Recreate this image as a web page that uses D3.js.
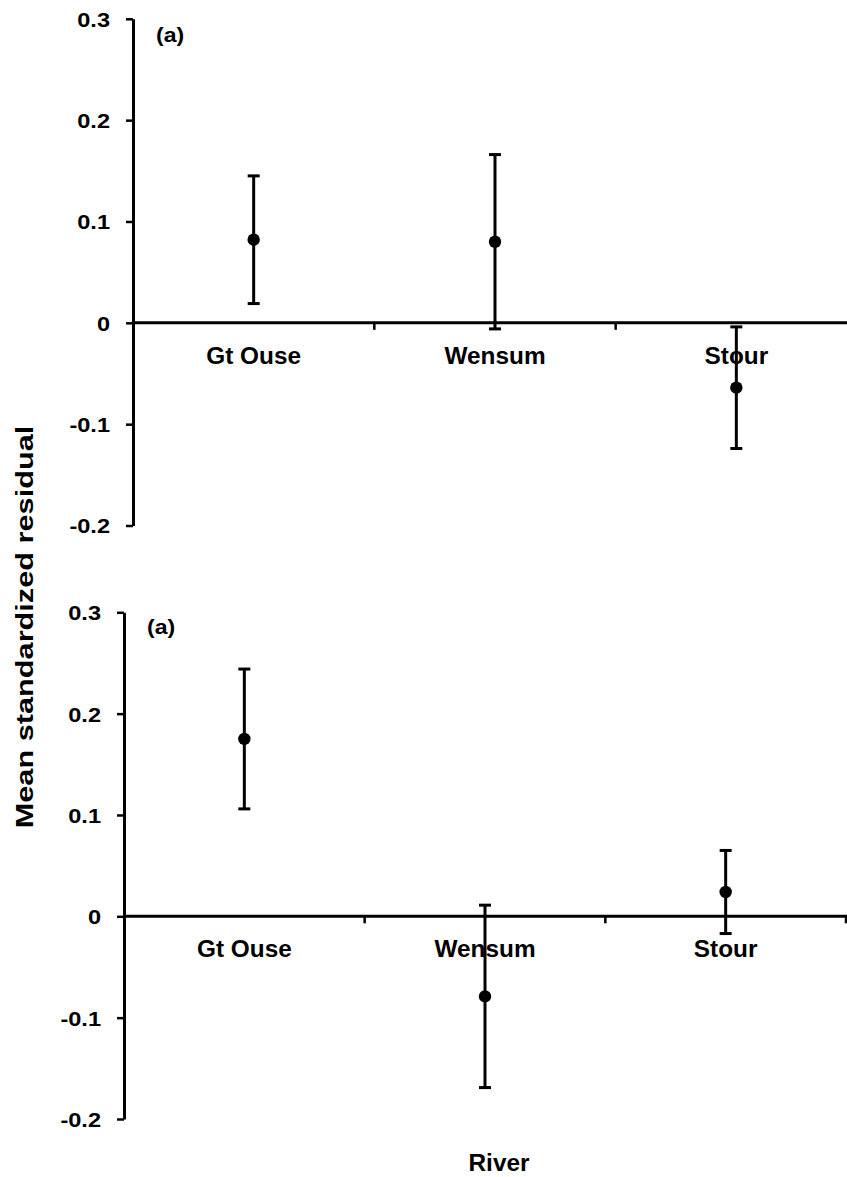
<!DOCTYPE html>
<html>
<head>
<meta charset="utf-8">
<script src="https://cdn.jsdelivr.net/npm/d3@7"></script>
<style>
  html, body { margin: 0; padding: 0; background: #fff; }
  svg { display: block; }
  text { font-family: "Liberation Sans", Arial, Helvetica, sans-serif; font-weight: bold; fill: #000; }
</style>
</head>
<body>
<script>
// River categories shared by both panels
const rivers = ["Gt Ouse", "Wensum", "Stour"];

// Mean standardized residuals and error half-widths, upper panel
const topMeans = [0.082, 0.080, -0.064];
const topErrors = [0.063, 0.086, 0.060];

// Mean standardized residuals and error half-widths, lower panel
const bottomMeans = [0.175, -0.079, 0.024];
const bottomErrors = [0.069, 0.090, 0.041];

// Y tick values and panel tag
const yTicks = [0.3, 0.2, 0.1, 0, -0.1, -0.2];
const panelTag = "(a)";

const W = 847, H = 1177;
const svg = d3.select("body").append("svg").attr("width", W).attr("height", H);

// Text with horizontal glyph stretch (the typeface here is drawn a little wide)
function stretchedText(parent, x, y, str, size, sx, anchor, rot) {
  return parent.append("text")
    .attr("transform", `translate(${x},${y}) rotate(${rot || 0}) scale(${sx},1)`)
    .attr("text-anchor", anchor || "middle")
    .style("font-size", size + "px")
    .text(str);
}

function panel(cfg) {
  const { axisX, rangeRight, yTop, yBottom, means, errors } = cfg;
  const g = svg.append("g");

  const x = d3.scaleBand().domain(rivers).range([axisX, rangeRight]);
  const y = d3.scaleLinear().domain([-0.2, 0.3]).range([yBottom, yTop]);

  // Category labels under the zero line
  rivers.forEach(r => {
    stretchedText(g, x(r) + x.bandwidth() / 2, y(0) + 41, r, 23, 1.06, "middle");
  });

  // Horizontal zero axis with category boundary ticks
  g.append("line")
    .attr("x1", axisX).attr("x2", W + 20)
    .attr("y1", y(0)).attr("y2", y(0))
    .attr("stroke", "#000").attr("stroke-width", 3);
  const bounds = rivers.slice(1).map(r => x(r)).concat([x.range()[1]]);
  g.selectAll("line.cat-tick").data(bounds).join("line")
    .attr("class", "cat-tick")
    .attr("x1", d => d).attr("x2", d => d)
    .attr("y1", y(0)).attr("y2", y(0) + 7)
    .attr("stroke", "#000").attr("stroke-width", 2.5);

  // Vertical value axis
  const sx = 1.15;
  const yAxis = d3.axisLeft(y)
    .tickValues(yTicks)
    .tickSize(7)
    .tickSizeOuter(0)
    .tickFormat(d => d === 0 ? "0" : d.toFixed(1));
  const ya = g.append("g").attr("transform", `translate(${axisX},0)`).call(yAxis);
  ya.select(".domain").attr("stroke", "#000").attr("stroke-width", 3);
  ya.selectAll(".tick line").attr("stroke", "#000").attr("stroke-width", 2.5);
  ya.selectAll(".tick text")
    .attr("x", -23 / sx)
    .attr("dy", "0.36em")
    .attr("transform", `scale(${sx},1)`)
    .attr("fill", "#000")
    .style("font-size", "20.5px")
    .style("font-family", "'Liberation Sans', Arial, sans-serif")
    .style("font-weight", "bold");

  // Panel tag
  stretchedText(g, cfg.tagX, cfg.tagY, panelTag, 21, 1.1, "start");

  // Error bars and means
  const data = rivers.map((r, i) => ({ r, m: means[i], e: errors[i] }));
  const cx = d => x(d.r) + x.bandwidth() / 2;
  const capW = 6;
  const bars = g.selectAll("g.bar").data(data).join("g").attr("class", "bar");
  bars.append("line")
    .attr("x1", cx).attr("x2", cx)
    .attr("y1", d => y(d.m + d.e)).attr("y2", d => y(d.m - d.e))
    .attr("stroke", "#000").attr("stroke-width", 3);
  bars.append("line")
    .attr("x1", d => cx(d) - capW).attr("x2", d => cx(d) + capW)
    .attr("y1", d => y(d.m + d.e)).attr("y2", d => y(d.m + d.e))
    .attr("stroke", "#000").attr("stroke-width", 3);
  bars.append("line")
    .attr("x1", d => cx(d) - capW).attr("x2", d => cx(d) + capW)
    .attr("y1", d => y(d.m - d.e)).attr("y2", d => y(d.m - d.e))
    .attr("stroke", "#000").attr("stroke-width", 3);
  bars.append("circle")
    .attr("cx", cx).attr("cy", d => y(d.m))
    .attr("r", 6.2).attr("fill", "#000");
}

panel({ axisX: 133, rangeRight: 857, yTop: 18.8, yBottom: 525.5,
        means: topMeans, errors: topErrors, tagX: 156, tagY: 42 });
panel({ axisX: 124, rangeRight: 846, yTop: 612.3, yBottom: 1119,
        means: bottomMeans, errors: bottomErrors, tagX: 147, tagY: 634 });

// Shared axis titles
stretchedText(svg, 33, 627, "Mean standardized residual", 24, 1.28, "middle", -90);
stretchedText(svg, 499, 1171, "River", 23, 1.06, "middle");
</script>
</body>
</html>
